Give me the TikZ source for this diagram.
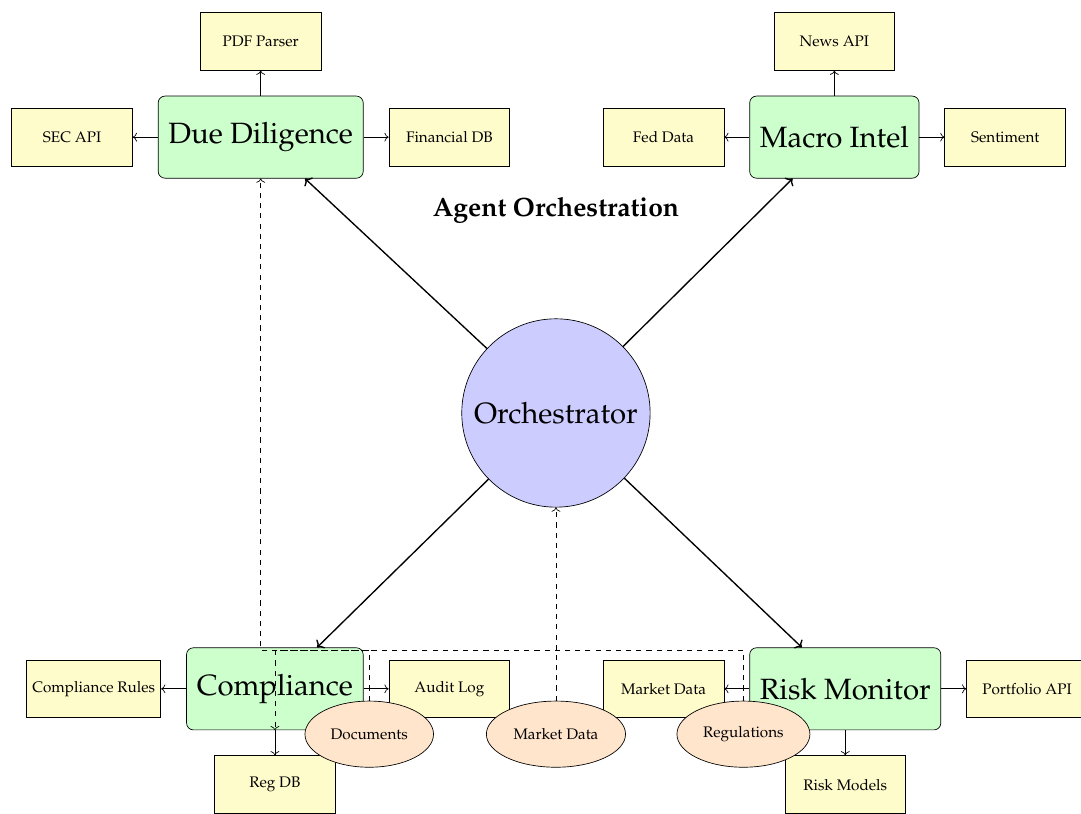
\documentclass[tikz,border=0pt]{standalone}
\usepackage[T1]{fontenc}
\usepackage{mathpazo}
\usepackage{tikz}
\usetikzlibrary{arrows.meta,positioning,shapes.geometric}

\begin{document}
\begin{tikzpicture}[
  hub/.style={draw, circle, fill=blue!20, minimum size=3.9cm, font=\LARGE},
  agent/.style={draw, rounded corners, fill=green!20, minimum height=1.7cm,
                inner xsep=6pt, font=\LARGE},
  tool/.style={draw, fill=yellow!20, minimum width=2.5cm, minimum height=1.2cm,
               font=\small},
  src/.style={draw, ellipse, fill=orange!20, minimum height=1.37cm,
              inner xsep=4pt, font=\small},
  link/.style={->, thick},
  sub/.style={->},
  dataflow/.style={->, dashed}]
\useasboundingbox (-11.51,-8.30) rectangle (10.87,8.55);
\node[hub] (orch) {Orchestrator};
\node[font=\bfseries\fontsize{15.6}{19}\selectfont] (title) at (0,4.2)
  {Agent Orchestration};
% agents
\node[agent, above left=3.47cm and 2.6cm of orch] (dd) {Due Diligence};
\node[agent, above right=3.47cm and 2.62cm of orch] (macro) {Macro Intel};
\node[agent, below left=3.47cm and 2.6cm of orch] (comp) {Compliance};
\node[agent, below right=3.47cm and 2.62cm of orch] (risk) {Risk Monitor};
% tools
\node[tool, above=0.52cm of dd] (pdf) {PDF Parser};
\node[tool, left=0.52cm of dd] (sec) {SEC API};
\node[tool, right=0.52cm of dd] (fin) {Financial DB};
\node[tool, above=0.52cm of macro] (news) {News API};
\node[tool, left=0.52cm of macro] (fed) {Fed Data};
\node[tool, right=0.52cm of macro] (sent) {Sentiment};
\node[tool, left=0.52cm of comp] (rules) {Compliance Rules};
\node[tool, right=0.52cm of comp] (audit) {Audit Log};
\node[tool, below=0.52cm of comp] (regdb) {Reg DB};
\node[tool, left=0.52cm of risk] (mktbox) {Market Data};
\node[tool, right=0.52cm of risk] (port) {Portfolio API};
\node[tool, below=0.52cm of risk] (models) {Risk Models};
% hub to agents
\draw[link] (orch) -- (dd);
\draw[link] (orch) -- (macro);
\draw[link] (orch) -- (comp);
\draw[link] (orch) -- (risk);
% agents to tools
\draw[sub] (dd) -- (pdf);
\draw[sub] (dd) -- (sec);
\draw[sub] (dd) -- (fin);
\draw[sub] (macro) -- (news);
\draw[sub] (macro) -- (fed);
\draw[sub] (macro) -- (sent);
\draw[sub] (comp) -- (rules);
\draw[sub] (comp) -- (audit);
\draw[sub] (comp) -- (regdb);
\draw[sub] (risk) -- (mktbox);
\draw[sub] (risk) -- (port);
\draw[sub] (risk) -- (models);
% shared data
\node[src, below=4cm of orch] (mkt) {Market Data};
\node[src, left=1.08cm of mkt] (docs) {Documents};
\node[src, right=1.05cm of mkt] (regs) {Regulations};
\draw[dataflow] (docs.north) -- ++(0,1.05) -| (dd.south);
\draw[dataflow] (mkt) -- (orch);
\draw[dataflow] (regs.north) -- ++(0,1.05) -| (comp.south);
\end{tikzpicture}
\end{document}
